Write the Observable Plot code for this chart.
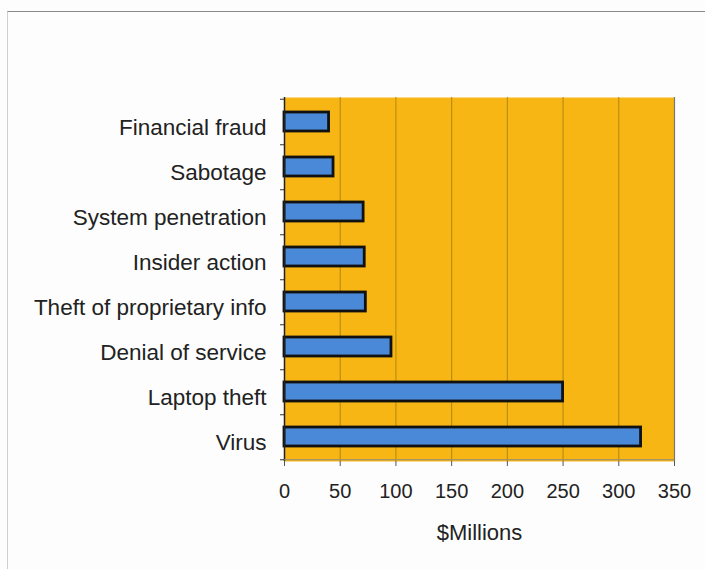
<!DOCTYPE html>
<html>
<head>
<meta charset="utf-8">
<script src="https://cdn.jsdelivr.net/npm/d3@7"></script>
<script src="https://cdn.jsdelivr.net/npm/@observablehq/plot@0.6"></script>
<style>
  html, body { margin: 0; padding: 0; background: #fdfdfd; }
  #wrap { position: relative; width: 705px; height: 569px; }
  #border { position: absolute; left: 7px; top: 11px; right: 0; bottom: 0;
            border-top: 1.5px solid #8a8a8a; border-left: 1.5px solid #d0d0d0; pointer-events: none; }
  #chart { position: absolute; left: 0; top: 0; }
</style>
</head>
<body>
<div id="wrap"><div id="border"></div><div id="chart"></div></div>
<script>
const categories = ["Financial fraud", "Sabotage", "System penetration", "Insider action",
  "Theft of proprietary info", "Denial of service", "Laptop theft", "Virus"];
const values = [40, 44, 71, 72, 73, 96, 250, 320];
const xTicks = [0, 50, 100, 150, 200, 250, 300, 350];
const gridTicks = [50, 100, 150, 200, 250, 300];
const xLabel = "$Millions";

const data = categories.map((c, i) => ({category: c, value: values[i]}));
const band = (461 - 97) / categories.length;

const chart = Plot.plot({
  width: 705,
  height: 569,
  marginLeft: 284,
  marginRight: 31,
  marginTop: 97,
  marginBottom: 108,
  style: {fontFamily: "Liberation Sans, Arial, sans-serif", background: "transparent", color: "#222"},
  x: {domain: [0, 350]},
  y: {domain: categories, padding: 0},
  marks: [
    Plot.frame({fill: "#F7B614", stroke: null}),
    Plot.gridX(gridTicks, {stroke: "#A8830E", strokeOpacity: 0.9, strokeWidth: 1}),
    Plot.ruleX([350], {stroke: "#7a7a6a", strokeWidth: 1.2}),
    Plot.barX(data, {x: "value", y: "category", fill: "#4A88D8", stroke: "#111",
      strokeWidth: 2.8, insetTop: 13, insetBottom: 13}),
    Plot.axisY({tickSize: 0, tickPadding: 18, fontSize: 22.5, dy: 6, label: null}),
    Plot.axisY({tickSize: 4, tickFormat: () => "", dy: band / 2, label: null, stroke: "#333"}),
    Plot.axisY([categories[0]], {tickSize: 4, tickFormat: () => "", dy: -band / 2, label: null, stroke: "#333"}),
    Plot.ruleX([0], {stroke: "#222", strokeWidth: 1.5}),
    Plot.ruleY([0], {y: () => categories[categories.length - 1], dy: band / 2, stroke: "#8a8a80", strokeWidth: 1.2}),
    Plot.axisX(xTicks, {tickSize: 5, tickPadding: 17, fontSize: 20, stroke: "#555", label: null}),
    Plot.axisX({label: xLabel, labelAnchor: "center", labelOffset: 78, labelArrow: "none",
      fontSize: 22, tickSize: 0, ticks: [], tickFormat: () => ""})
  ]
});
document.getElementById("chart").appendChild(chart);
</script>
</body>
</html>
